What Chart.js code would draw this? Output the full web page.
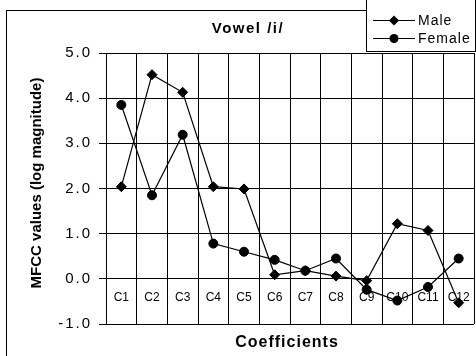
<!DOCTYPE html>
<html>
<head>
<meta charset="utf-8">
<script src="https://cdn.jsdelivr.net/npm/chart.js"></script>
<style>
  html, body { margin: 0; padding: 0; overflow: hidden; background: #fff; }
  #wrap { width: 476px; height: 356px; overflow: hidden; }
  canvas { display: block; }
</style>
</head>
<body>
<div id="wrap"><canvas id="chart" width="480" height="356"></canvas></div>
<script>
// values
const categories = ['C1', 'C2', 'C3', 'C4', 'C5', 'C6', 'C7', 'C8', 'C9', 'C10', 'C11', 'C12'];
const maleValues = [2.04, 4.52, 4.13, 2.04, 1.99, 0.09, 0.18, 0.06, -0.04, 1.22, 1.07, -0.53];
const femaleValues = [3.85, 1.85, 3.19, 0.78, 0.60, 0.42, 0.18, 0.45, -0.24, -0.48, -0.18, 0.45];
const yTicks = [-1, 0, 1, 2, 3, 4, 5];

const FONT = "'Liberation Sans', Arial, sans-serif";

// frame, titles and legend drawn the way the Excel original looks
const excelLook = {
  id: 'excelLook',
  beforeDraw(chart) {
    const ctx = chart.ctx;
    ctx.save();
    ctx.fillStyle = '#fff';
    ctx.fillRect(0, 0, chart.width, chart.height);
    ctx.strokeStyle = '#000';
    ctx.lineWidth = 1;
    ctx.strokeRect(6.5, 10.5, 600, 400);
    ctx.restore();
    ctx.letterSpacing = '2px'; // y tick text is drawn wide in the original

    // category labels keep normal spacing
    const xs = chart.scales.x;
    if (!xs._tightLabels) {
      const orig = xs.drawLabels;
      xs.drawLabels = function (area) {
        const prev = ctx.letterSpacing;
        ctx.letterSpacing = '0px';
        orig.call(this, area);
        ctx.letterSpacing = prev;
      };
      xs._tightLabels = true;
    }
  },
  afterDraw(chart) {
    const ctx = chart.ctx;
    ctx.save();
    ctx.fillStyle = '#000';
    ctx.textAlign = 'center';
    ctx.textBaseline = 'middle';

    ctx.font = 'bold 15px ' + FONT;
    ctx.letterSpacing = '1.5px';
    ctx.fillText('Vowel /i/', 248, 29);

    ctx.font = 'bold 16px ' + FONT;
    ctx.letterSpacing = '1px';
    ctx.fillText('Coefficients', 287, 343);

    ctx.save();
    ctx.translate(37, 183);
    ctx.rotate(-Math.PI / 2);
    ctx.font = 'bold 15px ' + FONT;
    ctx.letterSpacing = '0px';
    ctx.fillText('MFCC values (log magnitude)', 0, 0);
    ctx.restore();

    // legend box
    ctx.fillStyle = '#fff';
    ctx.fillRect(366.5, -1, 109, 52.5);
    ctx.strokeStyle = '#000';
    ctx.lineWidth = 1;
    ctx.strokeRect(366.5, -1, 109, 52.5);

    ctx.font = '14px ' + FONT;
    ctx.letterSpacing = '1px';
    ctx.textAlign = 'left';
    chart.data.datasets.forEach((ds, i) => {
      const y = 20.5 + i * 18;
      ctx.strokeStyle = '#000';
      ctx.lineWidth = 1.2;
      ctx.beginPath();
      ctx.moveTo(373, y);
      ctx.lineTo(415, y);
      ctx.stroke();
      ctx.fillStyle = '#000';
      ctx.beginPath();
      if (ds.pointStyle === 'rectRot') {
        const r = ds.pointRadius;
        ctx.moveTo(394, y - r);
        ctx.lineTo(394 + r, y);
        ctx.lineTo(394, y + r);
        ctx.lineTo(394 - r, y);
        ctx.closePath();
      } else {
        ctx.arc(394, y, ds.pointRadius, 0, Math.PI * 2);
      }
      ctx.fill();
      ctx.fillText(ds.label, 418, y + 1);
    });
    ctx.restore();
  }
};

new Chart(document.getElementById('chart'), {
  type: 'line',
  data: {
    labels: categories,
    datasets: [
      {
        label: 'Male',
        data: maleValues,
        borderColor: '#000',
        borderWidth: 1.2,
        backgroundColor: '#000',
        pointStyle: 'rectRot',
        pointRadius: 5,
        pointBorderWidth: 1,
        tension: 0
      },
      {
        label: 'Female',
        data: femaleValues,
        borderColor: '#000',
        borderWidth: 1.2,
        backgroundColor: '#000',
        pointStyle: 'circle',
        pointRadius: 4.5,
        pointBorderWidth: 1,
        tension: 0
      }
    ]
  },
  options: {
    responsive: false,
    animation: false,
    layout: { padding: { top: 53, bottom: 32, left: 0, right: 3 } },
    plugins: {
      legend: { display: false },
      title: { display: false },
      tooltip: { enabled: false }
    },
    scales: {
      x: {
        position: { y: 0 },
        offset: true,
        grid: { offset: true, color: '#000', drawTicks: false },
        border: { color: '#000' },
        ticks: {
          color: '#000',
          padding: 12,
          maxRotation: 0,
          autoSkip: false,
          font: { family: FONT, size: 12 }
        },
        afterFit: s => { s.paddingLeft = 0; s.paddingRight = 0; }
      },
      y: {
        min: -1,
        max: 5,
        afterBuildTicks: s => { s.ticks = yTicks.map(v => ({ value: v })); },
        afterFit: s => { s.width = 106; s.paddingTop = 0; s.paddingBottom = 0; },
        grid: { color: '#000', tickLength: 7, tickColor: '#000' },
        border: { color: '#000' },
        ticks: {
          color: '#000',
          padding: 7,
          font: { family: FONT, size: 15 },
          callback: v => v.toFixed(1)
        }
      }
    }
  },
  plugins: [excelLook]
});
</script>
</body>
</html>
